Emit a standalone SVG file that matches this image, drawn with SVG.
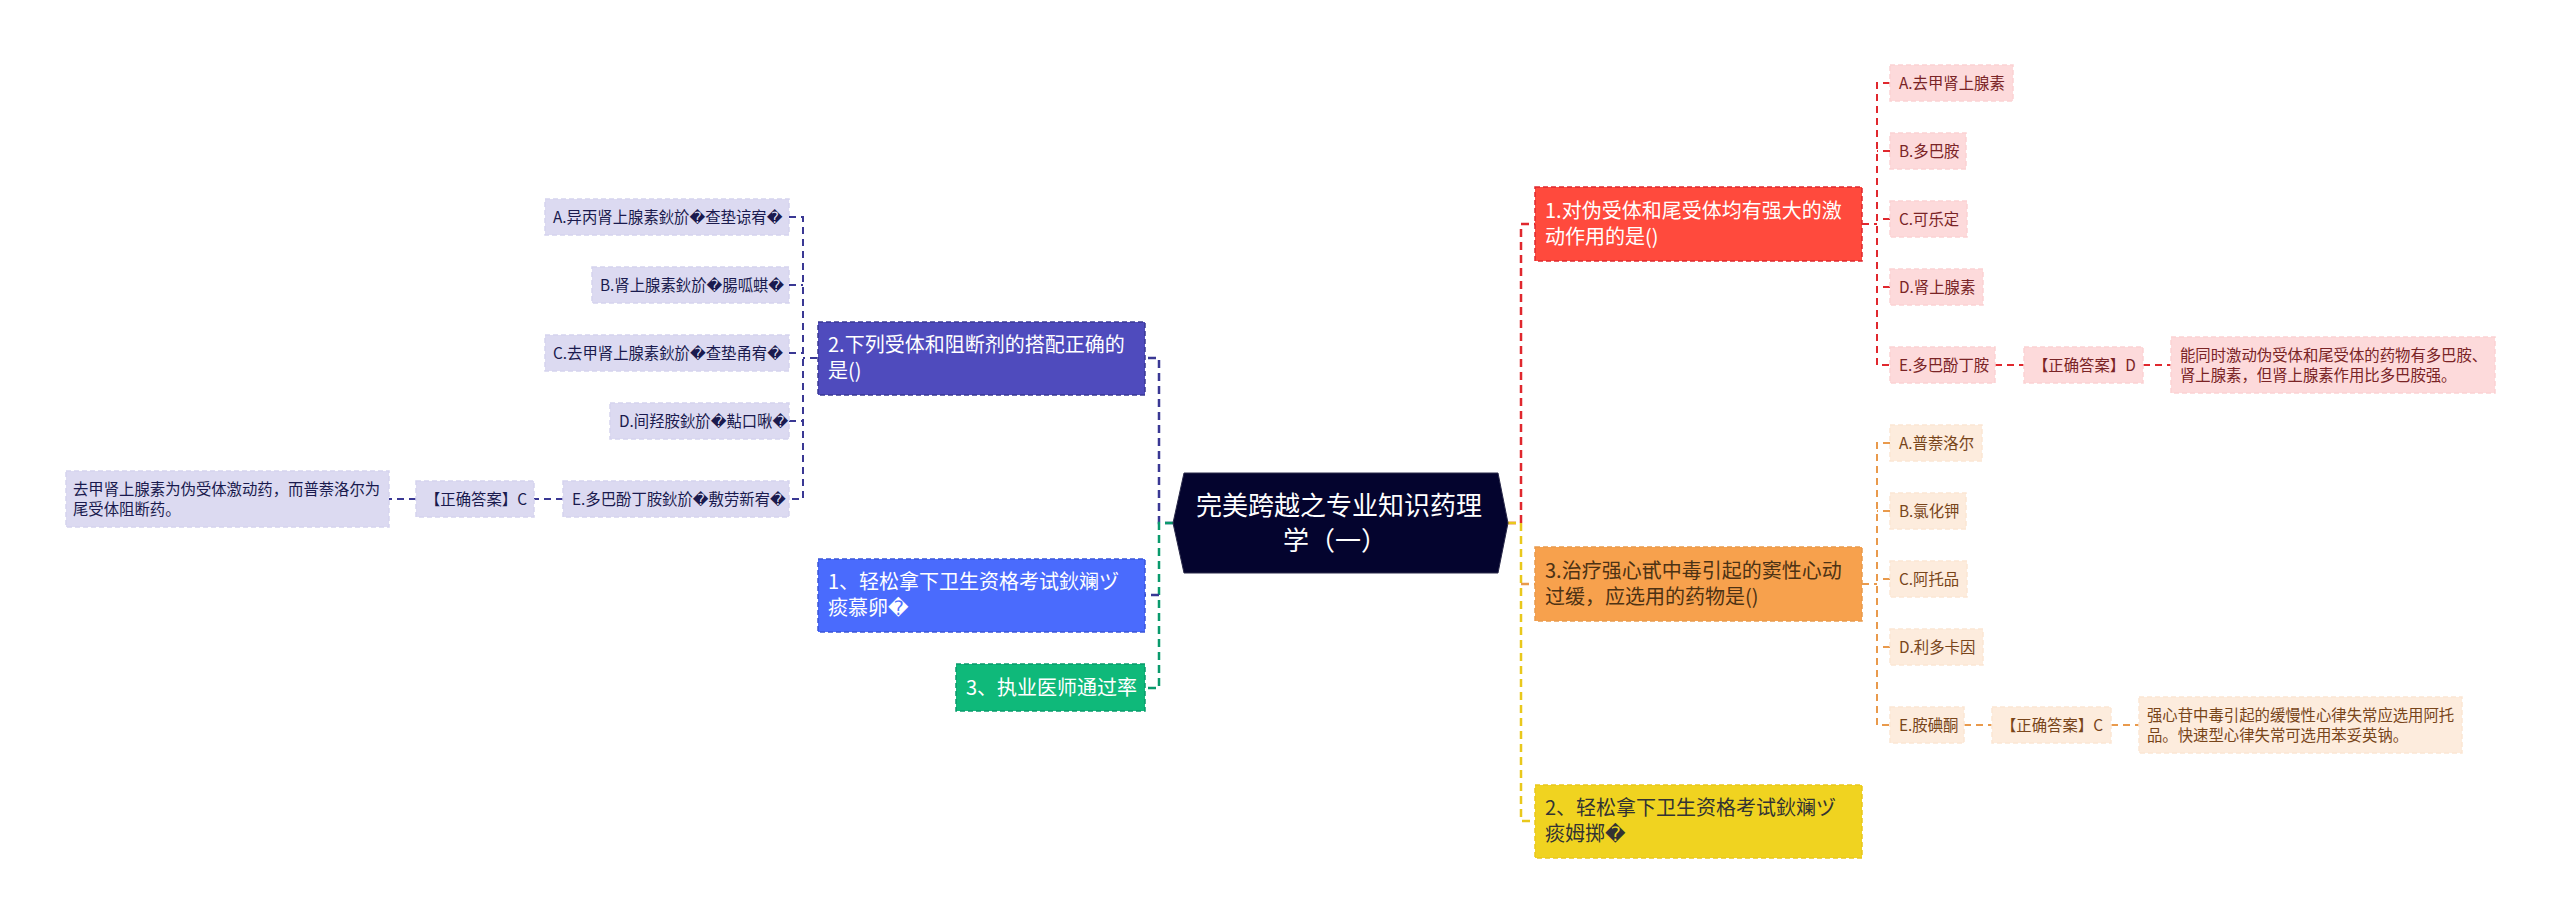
<svg xmlns="http://www.w3.org/2000/svg" width="2560" height="924" viewBox="0 0 2560 924">
<style>
text{font-family:"Noto Sans CJK SC","Microsoft YaHei","DejaVu Sans",sans-serif;white-space:pre}
.m{font-size:20px}.c{font-size:15.36px}
.w{fill:#fff}
.l{fill:none;stroke-width:2;stroke-dasharray:7 5}
.t{fill:none;stroke-width:2.5;stroke-dasharray:8 5}
.b{stroke-width:1.5;stroke-dasharray:5 3}
.red{stroke:#e0282e}.nav{stroke:#3a3894}.grn{stroke:#0a9a6c}.yel{stroke:#e9c81c}.org{stroke:#e99a4c}
.pr{fill:#fddadb;stroke:#fbd2d3}.pr2{fill:#7a2426}
.pv{fill:#dcdaf1;stroke:#d5d3ee}.pv2{fill:#1a1a4e}
.po{fill:#fdecdd;stroke:#fbe6d4}.po2{fill:#78451a}
</style>
<g id="connectors">
<path class="t nav" d="M1173 523H1159V358H1145"/>
<path class="t grn" d="M1173 523H1159V688H1145"/>
<path class="t nav" d="M1159 595H1145"/>
<path class="t red" d="M1508 523H1521V224H1535"/>
<path class="t yel" d="M1508 523H1521V821H1535"/>
<path class="t org" d="M1521 584H1535"/>
<path class="l nav" d="M817 358H803"/>
<path class="l nav" d="M789 217H803V499H789"/>
<path class="l nav" d="M789 285H803M789 353H803M789 421H803"/>
<path class="l nav" d="M563 499H534M416 499H389"/>
<path class="l red" d="M1862 224H1877"/>
<path class="l red" d="M1890 83H1877V365H1890"/>
<path class="l red" d="M1890 151H1877M1890 219H1877M1890 287H1877"/>
<path class="l red" d="M1995 365H2024M2143 365H2171"/>
<path class="l org" d="M1862 584H1877"/>
<path class="l org" d="M1890 443H1877V725H1890"/>
<path class="l org" d="M1890 511H1877M1890 579H1877M1890 647H1877"/>
<path class="l org" d="M1964 725H1992M2111 725H2139"/>
</g>
<g id="root">
<polygon points="1184,473 1498,473 1508,523 1498,573 1184,573 1173,523" fill="#04042e" stroke="#2a2a4a" stroke-width="1"/>
<text x="1339" y="515" font-size="26" fill="#fff" text-anchor="middle">完美跨越之专业知识药理</text>
<text x="1335" y="550" font-size="26" fill="#fff" text-anchor="middle">学（一）</text>
</g>
<g id="n-left-2"><rect class="b nav" x="818" y="322" width="327" height="73" fill="#4f4bbd"/>
<text class="m w" x="828" y="352">2.下列受体和阻断剂的搭配正确的</text><text class="m w" x="828" y="378">是()</text></g>
<g id="n-left-1"><rect class="b" x="818" y="559" width="327" height="73" fill="#4a6bfd" stroke="#3a55d8"/>
<text class="m w" x="828" y="589">1、轻松拿下卫生资格考试鈥斓ヅ</text><text class="m w" x="828" y="615">痰慕卵�</text></g>
<g id="n-left-3"><rect class="b grn" x="956" y="664" width="189" height="47" fill="#0fb97a"/>
<text class="m w" x="966" y="695">3、执业医师通过率</text></g>

<g id="l-a"><rect class="b pv" x="545" y="199" width="244" height="36"/><text class="c pv2" x="553" y="222.5">A.异丙肾上腺素鈥斺�查垫谅宥�</text></g>
<g id="l-b"><rect class="b pv" x="592" y="267" width="197" height="36"/><text class="c pv2" x="600" y="290.5">B.肾上腺素鈥斺�腸呱蜞�</text></g>
<g id="l-c"><rect class="b pv" x="545" y="335" width="244" height="36"/><text class="c pv2" x="553" y="358.5">C.去甲肾上腺素鈥斺�查垫甬宥�</text></g>
<g id="l-d"><rect class="b pv" x="610" y="403" width="179" height="36"/><text class="c pv2" x="619" y="426.5">D.间羟胺鈥斺�黇口啾�</text></g>
<g id="l-e"><rect class="b pv" x="563" y="481" width="226" height="36"/><text class="c pv2" x="572" y="504.5">E.多巴酚丁胺鈥斺�敷劳新宥�</text></g>
<g id="l-ans"><rect class="b pv" x="416" y="481" width="118" height="36"/><text class="c pv2" x="425" y="504.5">【正确答案】C</text></g>
<g id="l-note"><rect class="b pv" x="66" y="471" width="323" height="56"/><text class="c pv2" x="73" y="495">去甲肾上腺素为伪受体激动药，而普萘洛尔为</text><text class="c pv2" x="73" y="515">尾受体阻断药。</text></g>

<g id="r-1"><rect class="b red" x="1535" y="187" width="327" height="74" fill="#ff4a3d"/>
<text class="m w" x="1545" y="218">1.对伪受体和尾受体均有强大的激</text><text class="m w" x="1545" y="244">动作用的是()</text></g>
<g id="r-a"><rect class="b pr" x="1890" y="65" width="123" height="36"/><text class="c pr2" x="1899" y="88.5">A.去甲肾上腺素</text></g>
<g id="r-b"><rect class="b pr" x="1890" y="133" width="76" height="36"/><text class="c pr2" x="1899" y="156.5">B.多巴胺</text></g>
<g id="r-c"><rect class="b pr" x="1890" y="201" width="77" height="36"/><text class="c pr2" x="1899" y="224.5">C.可乐定</text></g>
<g id="r-d"><rect class="b pr" x="1890" y="269" width="93" height="36"/><text class="c pr2" x="1899" y="292.5">D.肾上腺素</text></g>
<g id="r-e"><rect class="b pr" x="1890" y="347" width="105" height="36"/><text class="c pr2" x="1899" y="370.5">E.多巴酚丁胺</text></g>
<g id="r-ans"><rect class="b pr" x="2024" y="347" width="119" height="36"/><text class="c pr2" x="2033" y="370.5">【正确答案】D</text></g>
<g id="r-note"><rect class="b pr" x="2171" y="337" width="324" height="56"/><text class="c pr2" x="2180" y="360.5">能同时激动伪受体和尾受体的药物有多巴胺、</text><text class="c pr2" x="2180" y="380.5">肾上腺素，但肾上腺素作用比多巴胺强。</text></g>

<g id="r-3"><rect class="b org" x="1535" y="547" width="327" height="74" fill="#f7a14d"/>
<text class="m" fill="#4d3214" x="1545" y="578">3.治疗强心甙中毒引起的窦性心动</text><text class="m" fill="#4d3214" x="1545" y="604">过缓，应选用的药物是()</text></g>
<g id="o-a"><rect class="b po" x="1890" y="425" width="92" height="36"/><text class="c po2" x="1899" y="448.5">A.普萘洛尔</text></g>
<g id="o-b"><rect class="b po" x="1890" y="493" width="76" height="36"/><text class="c po2" x="1899" y="516.5">B.氯化钾</text></g>
<g id="o-c"><rect class="b po" x="1890" y="561" width="77" height="36"/><text class="c po2" x="1899" y="584.5">C.阿托品</text></g>
<g id="o-d"><rect class="b po" x="1890" y="629" width="93" height="36"/><text class="c po2" x="1899" y="652.5">D.利多卡因</text></g>
<g id="o-e"><rect class="b po" x="1890" y="707" width="74" height="36"/><text class="c po2" x="1899" y="730.5">E.胺碘酮</text></g>
<g id="o-ans"><rect class="b po" x="1992" y="707" width="119" height="36"/><text class="c po2" x="2001" y="730.5">【正确答案】C</text></g>
<g id="o-note"><rect class="b po" x="2139" y="697" width="323" height="56"/><text class="c po2" x="2147" y="720.5">强心苷中毒引起的缓慢性心律失常应选用阿托</text><text class="c po2" x="2147" y="740.5">品。快速型心律失常可选用苯妥英钠。</text></g>

<g id="r-2"><rect class="b yel" x="1535" y="785" width="327" height="73" fill="#f0d320"/>
<text class="m" fill="#333" x="1545" y="815">2、轻松拿下卫生资格考试鈥斓ヅ</text><text class="m" fill="#333" x="1545" y="841">痰姆掷�</text></g>
</svg>
